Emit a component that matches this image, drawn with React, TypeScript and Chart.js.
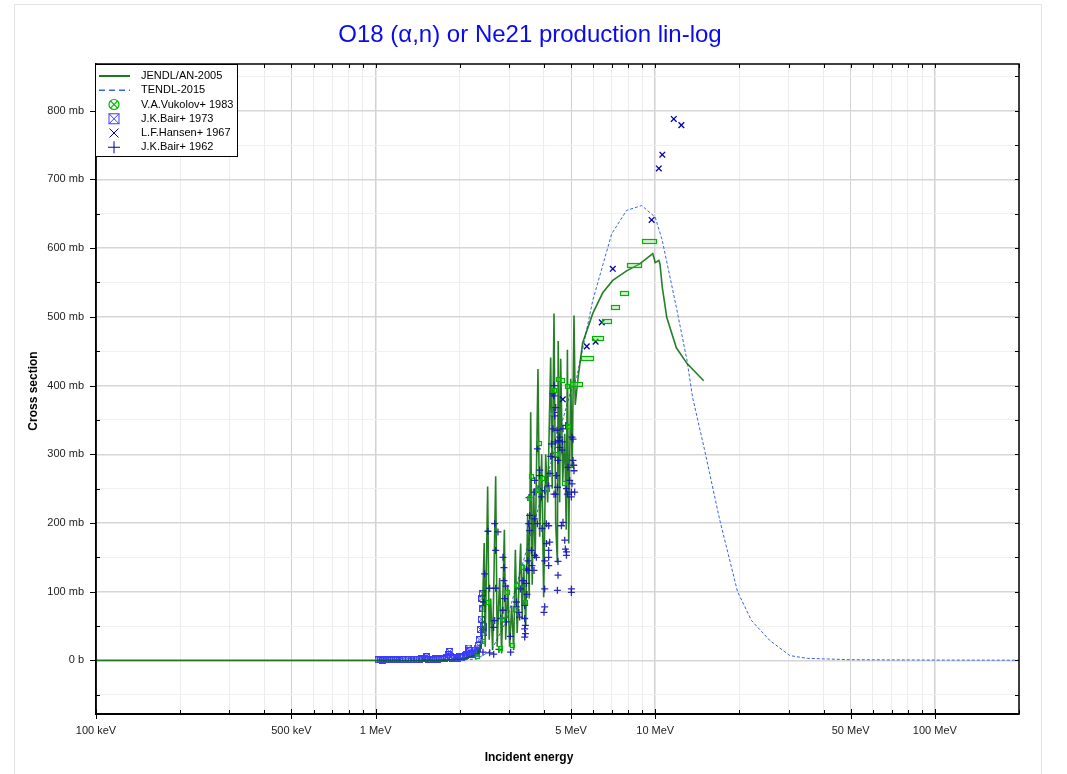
import React, { useEffect, useRef } from "react";
import { Chart, registerables } from "chart.js";

Chart.register(...registerables);

const titleText = "O18 (α,n) or Ne21 production lin-log";
const xAxisTitle = "Incident energy";
const yAxisTitle = "Cross section";

const xTickValues = [0.1, 0.2, 0.3, 0.4, 0.5, 0.6, 0.7, 0.8, 0.9, 1, 2, 3, 4, 5, 6, 7, 8, 9, 10, 20, 30, 40, 50, 60, 70, 80, 90, 100, 200];
const xLabelValues = [0.1, 0.5, 1, 5, 10, 50, 100];
const xLabelTexts = ["100 keV", "500 keV", "1 MeV", "5 MeV", "10 MeV", "50 MeV", "100 MeV"];
const yTickValues = [-50, 0, 50, 100, 150, 200, 250, 300, 350, 400, 450, 500, 550, 600, 650, 700, 750, 800, 850];
const yLabelValues = [0, 100, 200, 300, 400, 500, 600, 700, 800];
const yLabelTexts = ["0 b", "100 mb", "200 mb", "300 mb", "400 mb", "500 mb", "600 mb", "700 mb", "800 mb"];

const legendNames = ["JENDL/AN-2005", "TENDL-2015", "V.A.Vukolov+ 1983", "J.K.Bair+ 1973", "L.F.Hansen+ 1967", "J.K.Bair+ 1962"];

// JENDL/AN-2005 (MeV, mb)
const jendlE = [0.1, 1.69, 2.08, 2.26, 2.317, 2.394, 2.445, 2.465, 2.516, 2.548, 2.579, 2.622, 2.688, 2.721, 2.777, 2.823, 2.887, 2.919, 2.968, 3.016, 3.066, 3.117, 3.161, 3.208, 3.302, 3.343, 3.384, 3.441, 3.498, 3.542, 3.586, 3.631, 3.676, 3.721, 3.808, 3.862, 3.926, 3.991, 4.057, 4.125, 4.228, 4.281, 4.345, 4.406, 4.468, 4.498, 4.553, 4.591, 4.668, 4.746, 4.805, 4.852, 4.904, 4.986, 5.047, 5.123, 5.174, 5.3, 5.5, 5.98, 6.49, 7.05, 7.9, 8.8, 9.8, 10.0, 10.3, 10.4, 10.6, 11.0, 11.9, 13.0, 14.9];
const jendlS = [0, 0, 2, 8, 10, 25, 171, 20, 253, 30, 90, 15, 268, 20, 120, 10, 190, 30, 110, 20, 80, 15, 161, 40, 170, 60, 140, 50, 214, 90, 361, 110, 250, 150, 424, 180, 300, 92, 300, 230, 441, 250, 505, 200, 142, 465, 230, 439, 260, 330, 190, 452, 170, 410, 280, 502, 372, 412, 462, 505, 535, 553, 567, 577, 592, 579, 582, 577, 543, 499, 455, 432, 407];

// TENDL-2015
const tendlE = [1.5, 2.0, 2.3, 2.6, 2.94, 3.5, 4.0, 4.5, 5.0, 5.24, 5.98, 6.99, 7.9, 8.95, 10.0, 10.6, 11.9, 13.0, 13.6, 15.0, 17.0, 19.7, 22.1, 25.7, 30.3, 35, 50, 100, 200];
const tendlS = [0, 0.5, 2, 15, 58, 167, 250, 327, 393, 412, 524, 621, 655, 662, 645, 611, 514, 436, 383, 307, 205, 100, 58, 29, 7, 3, 1, 0.5, 0.3];

// V.A.Vukolov+ 1983 (energy, cross section, energy half-width)
const vukE = [2.29, 2.42, 2.52, 2.78, 2.83, 2.93, 3.06, 3.13, 3.17, 3.32, 3.41, 3.51, 3.58, 3.75, 3.81, 3.915, 4.08, 4.23, 4.31, 4.43, 4.49, 4.62, 4.71, 4.81, 4.875, 5.2, 5.7, 6.21, 6.71, 7.22, 7.71, 8.45, 9.5];
const vukS = [5, 27, 85, 17, 59, 99, 22, 74, 109, 135, 85, 235, 268, 247, 315, 265, 249, 360, 393, 299, 409, 408, 258, 399, 340, 401, 439, 469, 493, 514, 534, 575, 609];
const vukDE = [0.03, 0.03, 0.03, 0.035, 0.035, 0.035, 0.04, 0.04, 0.04, 0.04, 0.04, 0.045, 0.045, 0.045, 0.045, 0.05, 0.05, 0.05, 0.05, 0.055, 0.055, 0.055, 0.055, 0.06, 0.06, 0.26, 0.27, 0.27, 0.26, 0.25, 0.24, 0.5, 0.53];

// J.K.Bair+ 1973
const bair73E = [1.02, 1.04, 1.06, 1.08, 1.1, 1.12, 1.14, 1.16, 1.18, 1.2, 1.22, 1.25, 1.28, 1.31, 1.34, 1.37, 1.4, 1.43, 1.46, 1.49, 1.52, 1.55, 1.58, 1.61, 1.64, 1.67, 1.7, 1.73, 1.76, 1.79, 1.82, 1.84, 1.86, 1.88, 1.91, 1.94, 1.97, 2.0, 2.03, 2.06, 2.09, 2.12, 2.15, 2.17, 2.19, 2.21, 2.23, 2.25, 2.27, 2.29, 2.31, 2.33, 2.35, 2.37, 2.39, 2.4, 2.41, 2.42, 2.43, 2.44];
const bair73S = [1, 1, 0.5, 1, 1.5, 1, 0.8, 1.2, 1, 1.5, 1, 1.2, 2, 1.5, 1, 1.8, 2, 1.5, 2.5, 3, 5, 2, 1.5, 2, 2.5, 2, 3, 2.5, 3, 4, 8, 13, 6, 3, 3.5, 4, 3, 5, 4, 6, 7, 9, 18, 14, 8, 10, 9, 12, 15, 10, 18, 22, 30, 45, 60, 90, 97, 75, 50, 40];

// L.F.Hansen+ 1967
const hansenE = [4.67, 5.69, 6.12, 6.44, 7.05, 9.71, 10.3, 10.6, 11.65, 12.4];
const hansenS = [380, 457, 464, 492, 570, 641, 716, 736, 788, 779];

// J.K.Bair+ 1962
const bair62E = [2.388, 2.421, 2.434, 2.455, 2.522, 2.557, 2.557, 2.644, 2.666, 2.666, 2.688, 2.688, 2.644, 2.739, 2.761, 2.8, 2.854, 2.854, 2.877, 2.877, 2.894, 2.918, 2.935, 3.034, 3.041, 3.187, 3.187, 3.256, 3.275, 3.294, 3.365, 3.413, 3.413, 3.413, 3.413, 3.433, 3.433, 3.461, 3.461, 3.478, 3.507, 3.507, 3.527, 3.536, 3.556, 3.556, 3.607, 3.625, 3.685, 3.706, 3.706, 3.706, 3.706, 3.758, 3.789, 3.789, 3.808, 3.862, 3.862, 3.915, 3.936, 4.001, 4.024, 4.024, 4.024, 4.024, 4.081, 4.081, 4.159, 4.159, 4.159, 4.159, 4.159, 4.193, 4.204, 4.228, 4.253, 4.308, 4.308, 4.345, 4.345, 4.345, 4.345, 4.37, 4.396, 4.396, 4.406, 4.406, 4.432, 4.454, 4.468, 4.468, 4.491, 4.491, 4.491, 4.527, 4.553, 4.553, 4.618, 4.64, 4.656, 4.679, 4.679, 4.746, 4.773, 4.785, 4.813, 4.813, 4.813, 4.852, 4.876, 4.944, 5.014, 5.014, 5.014, 5.014, 5.039, 5.039, 5.081, 5.081, 5.11, 5.123, 5.152];
const bair62S = [27, 12, 85, 126, 188, 105, 11, 48, 199, 58, 160, 105, 9, 187, 16, 61, 150, 73, 135, 116, 90, 108, 56, 35, 12, 85, 78, 70, 63, 104, 116, 80, 61, 46, 34, 51, 39, 133, 112, 96, 145, 131, 199, 237, 211, 189, 160, 138, 131, 262, 206, 153, 245, 150, 308, 199, 250, 277, 269, 238, 192, 70, 247, 145, 104, 78, 199, 170, 254, 196, 160, 150, 138, 172, 272, 297, 315, 388, 337, 400, 385, 361, 242, 356, 318, 296, 368, 242, 269, 335, 252, 102, 291, 144, 124, 320, 310, 325, 196, 306, 318, 201, 337, 175, 162, 342, 250, 158, 153, 242, 281, 262, 245, 238, 104, 99, 325, 257, 322, 291, 284, 276, 245];

const FONT = "'Liberation Sans', Arial, sans-serif";
const GREEN = "#006a00";
const TENDL_BLUE = "#3a64e0";
const VUK_GREEN = "#00b400";
const B73_BLUE = "#3c3cff";
const DARK_BLUE = "#0000b4";

const pts = (xs: number[], ys: number[]) => xs.map((x, i) => ({ x, y: ys[i] }));

function squareX(color: string, size: number) {
  const c = document.createElement("canvas");
  c.width = size;
  c.height = size;
  const g = c.getContext("2d")!;
  g.strokeStyle = color;
  g.lineWidth = 1;
  g.strokeRect(0.5, 0.5, size - 1, size - 1);
  g.beginPath();
  g.moveTo(0.5, 0.5);
  g.lineTo(size - 0.5, size - 0.5);
  g.moveTo(size - 0.5, 0.5);
  g.lineTo(0.5, size - 0.5);
  g.stroke();
  return c;
}

const decorPlugin = {
  id: "decor",
  beforeDraw(chart: any) {
    const ctx = chart.ctx;
    ctx.save();
    ctx.fillStyle = "#fff";
    ctx.fillRect(0, 0, chart.width, chart.height);
    ctx.strokeStyle = "#e4e4e4";
    ctx.lineWidth = 1;
    ctx.strokeRect(14.5, 4.5, 1027, 820);
    ctx.restore();
  },
  afterDatasetsDraw(chart: any) {
    const ctx = chart.ctx;
    const xs = chart.scales.x;
    const ys = chart.scales.y;
    const { left, right, top, bottom } = chart.chartArea;
    ctx.save();
    ctx.beginPath();
    ctx.rect(left, top, right - left, bottom - top);
    ctx.clip();
    ctx.strokeStyle = VUK_GREEN;
    ctx.fillStyle = "rgba(120,220,120,0.35)";
    ctx.lineWidth = 1.2;
    for (let i = 0; i < vukE.length; i++) {
      const x1 = xs.getPixelForValue(vukE[i] - vukDE[i]);
      const x2 = xs.getPixelForValue(vukE[i] + vukDE[i]);
      const y = ys.getPixelForValue(vukS[i]);
      const rx = Math.round(x1) + 0.5;
      const ry = Math.round(y - 2.5) + 0.5;
      const rw = Math.max(4, Math.round(x2 - x1));
      ctx.fillRect(rx, ry, rw, 4);
      ctx.strokeRect(rx, ry, rw, 4);
    }
    ctx.restore();
  },
  afterDraw(chart: any) {
    const ctx = chart.ctx;
    const xs = chart.scales.x;
    const ys = chart.scales.y;
    const { left, right, top, bottom } = chart.chartArea;
    ctx.save();
    // frame
    ctx.strokeStyle = "#000";
    ctx.lineWidth = 1.5;
    ctx.strokeRect(left, top, right - left, bottom - top);
    // ticks
    ctx.lineWidth = 1;
    ctx.beginPath();
    yTickValues.forEach((v) => {
      const y = Math.round(ys.getPixelForValue(v)) + 0.5;
      if (yLabelValues.includes(v)) {
        ctx.moveTo(left - 6, y); ctx.lineTo(left, y);
      } else {
        ctx.moveTo(left, y); ctx.lineTo(left + 4, y);
      }
      ctx.moveTo(right - 4, y); ctx.lineTo(right, y);
    });
    xTickValues.forEach((v) => {
      const x = Math.round(xs.getPixelForValue(v)) + 0.5;
      if (xLabelValues.includes(v)) {
        ctx.moveTo(x, bottom - 5); ctx.lineTo(x, bottom + 5);
      } else {
        ctx.moveTo(x, bottom - 4); ctx.lineTo(x, bottom);
      }
      ctx.moveTo(x, top); ctx.lineTo(x, top + 4);
    });
    ctx.stroke();

    // title
    ctx.fillStyle = "#0a0aee";
    ctx.font = `24px ${FONT}`;
    ctx.textAlign = "center";
    ctx.textBaseline = "middle";
    ctx.fillText(titleText, 530, 35);
    // axis titles
    ctx.fillStyle = "#000";
    ctx.font = `bold 12px ${FONT}`;
    ctx.fillText(xAxisTitle, 529, 758);
    ctx.save();
    ctx.translate(34, 391);
    ctx.rotate(-Math.PI / 2);
    ctx.fillText(yAxisTitle, 0, 0);
    ctx.restore();

    // legend
    const bx = 95.5, by = 64.5, bw = 142, bh = 92;
    ctx.fillStyle = "#fff";
    ctx.fillRect(bx, by, bw, bh);
    ctx.strokeStyle = "#000";
    ctx.lineWidth = 1;
    ctx.strokeRect(bx, by, bw, bh);
    const sx = 114;
    const rowY = (i: number) => 76 + i * 14.25;
    ctx.strokeStyle = GREEN;
    ctx.lineWidth = 1.8;
    ctx.beginPath(); ctx.moveTo(99, rowY(0)); ctx.lineTo(130, rowY(0)); ctx.stroke();
    ctx.strokeStyle = TENDL_BLUE;
    ctx.lineWidth = 1.5;
    ctx.setLineDash([6, 4]);
    ctx.beginPath(); ctx.moveTo(99, rowY(1)); ctx.lineTo(130, rowY(1)); ctx.stroke();
    ctx.setLineDash([]);
    ctx.strokeStyle = VUK_GREEN;
    ctx.lineWidth = 1.2;
    ctx.beginPath(); ctx.arc(sx, rowY(2), 5, 0, Math.PI * 2); ctx.stroke();
    ctx.beginPath();
    ctx.moveTo(sx - 3.3, rowY(2) - 3.3); ctx.lineTo(sx + 3.3, rowY(2) + 3.3);
    ctx.moveTo(sx + 3.3, rowY(2) - 3.3); ctx.lineTo(sx - 3.3, rowY(2) + 3.3);
    ctx.stroke();
    ctx.strokeStyle = B73_BLUE;
    ctx.lineWidth = 1;
    ctx.strokeRect(sx - 5, rowY(3) - 5, 10, 10);
    ctx.beginPath();
    ctx.moveTo(sx - 5, rowY(3) - 5); ctx.lineTo(sx + 5, rowY(3) + 5);
    ctx.moveTo(sx + 5, rowY(3) - 5); ctx.lineTo(sx - 5, rowY(3) + 5);
    ctx.stroke();
    ctx.strokeStyle = DARK_BLUE;
    ctx.beginPath();
    ctx.moveTo(sx - 4.5, rowY(4) - 4.5); ctx.lineTo(sx + 4.5, rowY(4) + 4.5);
    ctx.moveTo(sx + 4.5, rowY(4) - 4.5); ctx.lineTo(sx - 4.5, rowY(4) + 4.5);
    ctx.stroke();
    ctx.beginPath();
    ctx.moveTo(sx - 6, rowY(5)); ctx.lineTo(sx + 6, rowY(5));
    ctx.moveTo(sx, rowY(5) - 6); ctx.lineTo(sx, rowY(5) + 6);
    ctx.stroke();
    ctx.fillStyle = "#000";
    ctx.font = `11px ${FONT}`;
    ctx.textAlign = "left";
    ctx.textBaseline = "middle";
    legendNames.forEach((n, i) => ctx.fillText(n, 141, rowY(i)));
    ctx.restore();
  },
};

export default function App() {
  const ref = useRef<HTMLCanvasElement | null>(null);
  useEffect(() => {
    if (!ref.current) return;
    const b73Style = squareX(B73_BLUE, 7);
    const chart = new Chart(ref.current, {
      type: "scatter",
      data: {
        datasets: [
          {
            label: legendNames[0],
            data: pts(jendlE, jendlS),
            showLine: true,
            borderColor: "rgba(0,105,0,0.85)",
            borderWidth: 1.6,
            pointRadius: 0,
            order: 3,
          } as any,
          {
            label: legendNames[1],
            data: pts(tendlE, tendlS),
            showLine: true,
            borderColor: TENDL_BLUE,
            borderWidth: 1,
            borderDash: [3, 2],
            pointRadius: 0,
            order: 4,
          },
          {
            label: legendNames[2],
            data: pts(vukE, vukS),
            pointRadius: 0,
            showLine: false,
            order: 2,
          },
          {
            label: legendNames[3],
            data: pts(bair73E, bair73S),
            pointStyle: b73Style,
            pointRadius: 3.5,
            order: 5,
          },
          {
            label: legendNames[4],
            data: pts(hansenE, hansenS),
            pointStyle: "crossRot",
            pointRadius: 4,
            borderColor: DARK_BLUE,
            borderWidth: 1.3,
            order: 1,
          },
          {
            label: legendNames[5],
            data: pts(bair62E, bair62S),
            pointStyle: "cross",
            pointRadius: 3.5,
            borderColor: "rgba(20,20,180,0.9)",
            borderWidth: 1.3,
            order: 1,
          },
        ],
      },
      options: {
        animation: false,
        responsive: true,
        maintainAspectRatio: false,
        layout: { padding: { left: 0, right: 48, top: 64, bottom: 0 } },
        plugins: { legend: { display: false }, title: { display: false }, tooltip: { enabled: false } },
        scales: {
          x: {
            type: "logarithmic",
            min: 0.1,
            max: 200,
            afterBuildTicks: (s: any) => {
              s.ticks = xTickValues.map((v) => ({ value: v }));
            },
            afterFit: (s: any) => {
              s.height = 60;
            },
            ticks: {
              autoSkip: false,
              maxRotation: 0,
              padding: 10,
              color: "#222",
              font: { family: FONT, size: 11 },
              callback: (v: any) => {
                const i = xLabelValues.findIndex((t) => Math.abs(t - v) < 1e-9);
                return i >= 0 ? xLabelTexts[i] : "";
              },
            },
            grid: {
              drawTicks: false,
              color: (c: any) => (c.tick && xLabelValues.some((t) => Math.abs(t - c.tick.value) < 1e-9) ? "#d2d2d2" : "#ececec"),
              lineWidth: (c: any) => (c.tick && [0.1, 1, 10, 100].some((t) => Math.abs(t - c.tick.value) < 1e-9) ? 1.5 : 1),
            },
            border: { color: "#000", width: 2 },
          },
          y: {
            type: "linear",
            min: -78,
            max: 868,
            afterBuildTicks: (s: any) => {
              s.ticks = yTickValues.map((v) => ({ value: v }));
            },
            afterFit: (s: any) => {
              s.width = 96;
            },
            ticks: {
              autoSkip: false,
              padding: 12,
              color: "#222",
              font: { family: FONT, size: 11 },
              callback: (v: any) => {
                const i = yLabelValues.indexOf(v);
                return i >= 0 ? yLabelTexts[i] : "";
              },
            },
            grid: {
              drawTicks: false,
              color: (c: any) => (c.tick && yLabelValues.includes(c.tick.value) ? "#d6d6d6" : "#f0f0f0"),
              lineWidth: (c: any) => (c.tick && yLabelValues.includes(c.tick.value) ? 1.5 : 1),
            },
            border: { color: "#000", width: 1.5 },
          },
        },
      },
      plugins: [decorPlugin],
    });
    return () => chart.destroy();
  }, []);
  return (
    <div style={{ position: "absolute", left: 0, top: 0, width: 1067, height: 774 }}>
      <canvas ref={ref} />
    </div>
  );
}
